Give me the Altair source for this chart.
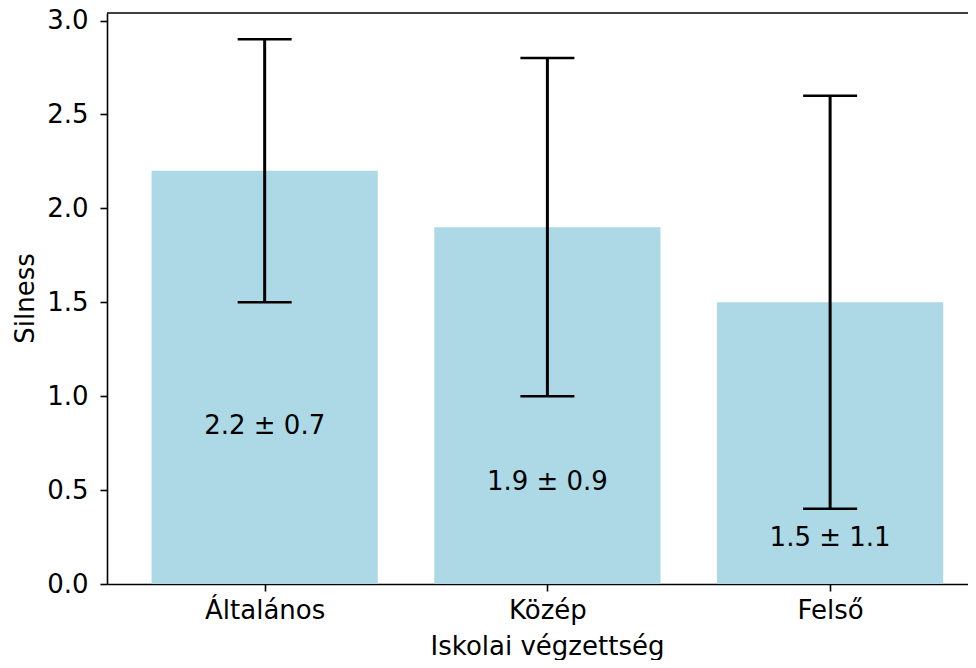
import altair as alt
import pandas as pd

categories = ["Általános", "Közép", "Felső"]
means = [2.2, 1.9, 1.5]
stds = [0.7, 0.9, 1.1]
label_y = [0.8, 0.5, 0.2]
y_ticks = [0.0, 0.5, 1.0, 1.5, 2.0, 2.5, 3.0]

df = pd.DataFrame({
    "idx": list(range(len(categories))),
    "cat": categories,
    "mean": means,
    "std": stds,
})
df["lo"] = df["idx"] - 0.4
df["hi"] = df["idx"] + 0.4
df["base"] = 0.0
df["err_lo"] = df["mean"] - df["std"]
df["err_hi"] = df["mean"] + df["std"]
df["label"] = [f"{m:.1f} ± {s:.1f}" for m, s in zip(means, stds)]
df["label_y"] = label_y

W, H = 861, 571
FONT = "DejaVu Sans"
FS = 26

label_expr = "[" + ",".join(f"'{c}'" for c in categories) + "][datum.value]"

xscale = alt.Scale(domain=[-0.54, 2.47], nice=False, zero=False)
yscale = alt.Scale(domain=[0, 3.04], nice=False, zero=True)

common = dict(grid=False, tickSize=7, tickWidth=1.6, tickColor="black",
              domainColor="black", domainWidth=1.6, labelFont=FONT, labelFontSize=FS,
              labelColor="black", titleFont=FONT, titleFontSize=FS,
              titleFontWeight="normal", titleColor="black", labelFlush=False,
              labelOverlap=False)

xaxis = alt.Axis(values=[0, 1, 2], labelExpr=label_expr, title="Iskolai végzettség",
                 labelPadding=6, titleX=440, titleY=70, titleBaseline="alphabetic",
                 titleAlign="center", **common)
yaxis = alt.Axis(values=y_ticks, format=".1f", title="Silness", labelPadding=12,
                 titleX=-74, titleY=285, titleAngle=-90, titleBaseline="alphabetic",
                 titleAlign="center", **common)

bars = alt.Chart(df).mark_bar(color="#add8e6", orient="vertical").encode(
    x=alt.X("lo:Q", scale=xscale, axis=xaxis),
    x2="hi",
    y=alt.Y("mean:Q", scale=yscale, axis=yaxis),
    y2="base",
)

err = alt.Chart(df).mark_rule(color="black", strokeWidth=3).encode(
    x="idx:Q", y="err_lo:Q", y2="err_hi"
)
cap_top = alt.Chart(df).mark_tick(color="black", orient="horizontal", size=54,
                                  thickness=2.5, opacity=1).encode(x="idx:Q", y="err_hi:Q")
cap_bot = alt.Chart(df).mark_tick(color="black", orient="horizontal", size=54,
                                  thickness=2.5, opacity=1).encode(x="idx:Q", y="err_lo:Q")

labels = alt.Chart(df).mark_text(font=FONT, fontSize=FS, color="black",
                                 align="center", baseline="alphabetic").encode(
    x="idx:Q", y="label_y:Q", text="label:N"
)

top_spine = alt.Chart(alt.Data(values=[{"a": 1}])).mark_rule(
    color="black", strokeWidth=1.6).encode(
    x=alt.value(0), x2=alt.value(W), y=alt.value(0)
)

chart = alt.layer(bars, err, cap_top, cap_bot, labels, top_spine).properties(
    width=W, height=H,
    autosize=alt.AutoSizeParams(type="none"),
    padding={"left": 99, "top": 5, "right": 0, "bottom": 76},
).configure_view(stroke=None)

chart.save("out.html", embed_options={"renderer": "svg", "actions": False})
